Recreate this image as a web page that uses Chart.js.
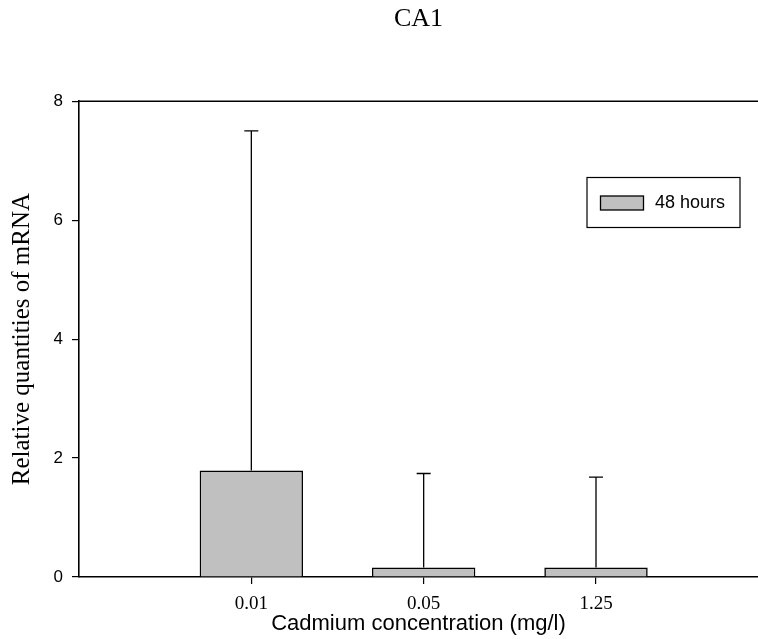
<!DOCTYPE html>
<html>
<head>
<meta charset="utf-8">
<script src="https://cdn.jsdelivr.net/npm/chart.js@4"></script>
<style>
  html, body { margin: 0; padding: 0; background: #fff; }
  #wrap { width: 758px; height: 639px; }
</style>
</head>
<body>
<div id="wrap"><canvas id="chart" width="758" height="639"></canvas></div>
<script>
// concentrations and 48 h expression values
const concentrations = ['0.01', '0.05', '1.25'];
const positions = [1, 2, 3];
const means = [1.79, 0.16, 0.16];
const errUpper = [7.50, 1.74, 1.68];
const yTicks = [0, 2, 4, 6, 8];
const seriesLabel = '48 hours';

const SERIF = '"Liberation Serif", "Times New Roman", serif';
const SANS = '"Liberation Sans", Arial, sans-serif';

// upper error bars + top frame line
const errorBars = {
  id: 'errorBars',
  afterDatasetsDraw(chart) {
    const { ctx, chartArea, scales: { x, y } } = chart;
    ctx.save();
    ctx.strokeStyle = '#000';
    ctx.lineWidth = 1.3;
    means.forEach((m, i) => {
      const px = x.getPixelForValue(positions[i]);
      const yTop = y.getPixelForValue(errUpper[i]);
      const yBar = y.getPixelForValue(m);
      ctx.beginPath();
      ctx.moveTo(px, yBar);
      ctx.lineTo(px, yTop);
      ctx.moveTo(px - 7, yTop);
      ctx.lineTo(px + 7, yTop);
      ctx.stroke();
    });
    ctx.lineWidth = 1.6;
    ctx.beginPath();
    ctx.moveTo(chartArea.left, chartArea.top);
    ctx.lineTo(chartArea.right, chartArea.top);
    ctx.stroke();
    ctx.restore();
  }
};

// boxed legend inside the plot
const boxLegend = {
  id: 'boxLegend',
  afterDraw(chart) {
    const { ctx } = chart;
    const ds = chart.data.datasets[0];
    const bx = 587, by = 177.5, bw = 153, bh = 50;
    ctx.save();
    ctx.fillStyle = '#fff';
    ctx.fillRect(bx, by, bw, bh);
    ctx.strokeStyle = '#000';
    ctx.lineWidth = 1.2;
    ctx.strokeRect(bx, by, bw, bh);
    ctx.fillStyle = ds.backgroundColor;
    ctx.fillRect(600.5, 196, 43, 14);
    ctx.lineWidth = 1.3;
    ctx.strokeRect(600.5, 196, 43, 14);
    ctx.fillStyle = '#000';
    ctx.font = '18px ' + SANS;
    ctx.textBaseline = 'middle';
    ctx.fillText(ds.label, 655, 203);
    ctx.restore();
  }
};

new Chart(document.getElementById('chart'), {
  type: 'bar',
  data: {
    datasets: [{
      label: seriesLabel,
      data: positions.map((p, i) => ({ x: p, y: means[i] })),
      backgroundColor: '#c0c0c0',
      borderColor: '#000',
      borderWidth: 1.6,
      barPercentage: 0.6,
      categoryPercentage: 1.0
    }]
  },
  options: {
    responsive: false,
    animation: false,
    layout: { padding: { left: 0, right: 0, top: 0, bottom: 0 } },
    plugins: {
      legend: { display: false },
      tooltip: { enabled: false },
      title: {
        display: true,
        fullSize: false,
        text: 'CA1',
        color: '#000',
        font: { family: SERIF, size: 26, weight: 'normal' },
        padding: { top: 4, bottom: 66 }
      }
    },
    scales: {
      x: {
        type: 'linear',
        min: 0,
        max: 3.94,
        offset: false,
        afterBuildTicks(scale) {
          scale.ticks = positions.map(v => ({ value: v }));
        },
        afterFit(scale) { scale.height = 62; },
        ticks: {
          color: '#000',
          font: { family: SERIF, size: 19 },
          padding: 9,
          maxRotation: 0,
          callback: (v) => concentrations[positions.indexOf(v)] ?? ''
        },
        grid: { offset: false, drawOnChartArea: false, tickLength: 7, color: '#000', lineWidth: 1.2 },
        border: { color: '#000', width: 1.6 },
        title: {
          display: true,
          text: 'Cadmium concentration (mg/l)',
          color: '#000',
          font: { family: SANS, size: 22 },
          padding: { top: 0, bottom: 2 }
        }
      },
      y: {
        min: 0,
        max: 8,
        afterBuildTicks(scale) {
          scale.ticks = yTicks.map(v => ({ value: v }));
        },
        afterFit(scale) { scale.width = 79; },
        ticks: {
          color: '#000',
          font: { family: SANS, size: 17 },
          padding: 9
        },
        grid: { drawOnChartArea: false, tickLength: 7, color: '#000', lineWidth: 1.2 },
        border: { color: '#000', width: 1.6 },
        title: {
          display: true,
          text: 'Relative quantities of mRNA',
          color: '#000',
          font: { family: SERIF, size: 25 },
          padding: { top: 7, bottom: 0 }
        }
      }
    }
  },
  plugins: [errorBars, boxLegend]
});
</script>
</body>
</html>
